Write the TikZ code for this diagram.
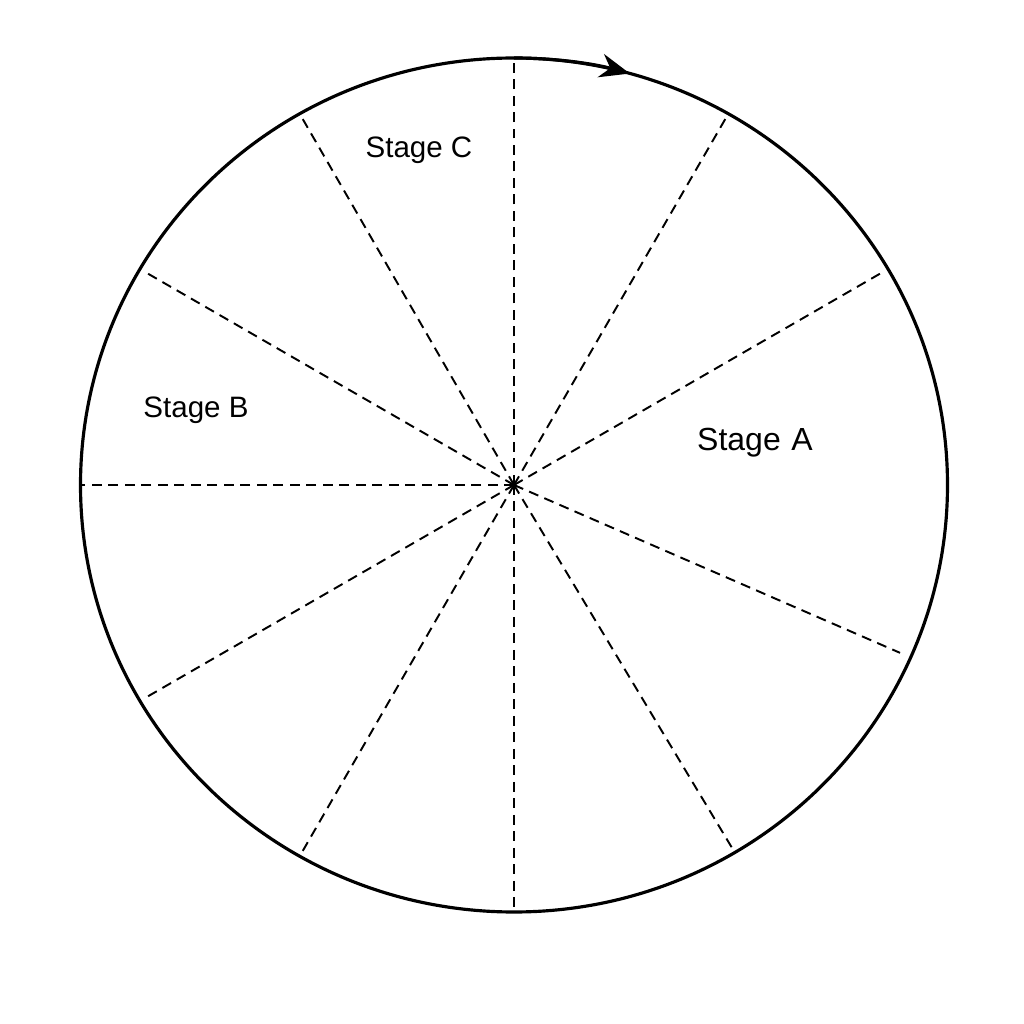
\documentclass[tikz,border=0pt]{standalone}
\usepackage{fontspec}
\setmainfont{Liberation Sans}
\usetikzlibrary{positioning,arrows.meta,calc}
\tikzset{spoke/.style={dashed,dash pattern=on 1mm off 0.65mm,line width=0.55pt},
	rim/.style={line width=0.9pt}}
\newcommand{\drawlabel}{\node[font=\fontsize{8.4}{10}\selectfont,inner sep=0]}

\begin{document}
\begin{tikzpicture}
	\useasboundingbox (0,0) rectangle (10.24,10.24);
	
	\coordinate (o) at (5.14,5.39);
	\draw[rim] (o) ellipse [x radius=4.335, y radius=4.27];
	\draw[rim,-{Stealth[length=3mm,width=2.4mm]}] ($(o)+(90:4.335 and 4.27)$) arc [start angle=90, end angle=74.5, x radius=4.335, y radius=4.27];
	
	% spokes
	\foreach \a/\r/\n in {90/4.25/1,60/4.23/2,30/4.24/3,-23.5/4.21/4,-59/4.24/5,-90/4.27/6,-120/4.23/7,-150/4.27/8,180/4.34/9,150/4.24/10,120/4.23/11} {
		\coordinate (r\n) at ($(o)+(\a:\r)$);
		\draw[spoke] (o) -- (r\n);
	}
	
	\drawlabel[font=\fontsize{9.1}{11}\selectfont] (A) at (7.55,5.81) {Stage\,\,A};
	\drawlabel (B) at (1.96,6.14) {Stage B};
	\drawlabel (C) at (4.19,8.74) {Stage C};
	
\end{tikzpicture}
\end{document}
